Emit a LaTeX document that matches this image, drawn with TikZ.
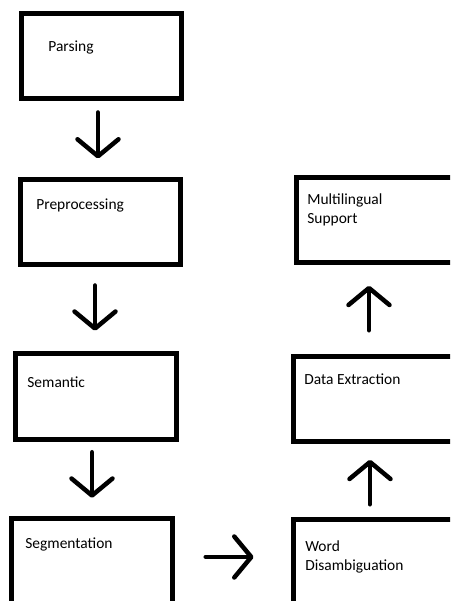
\documentclass[tikz,border=0pt]{standalone}
\usepackage{fontspec}
\setmainfont{Carlito}
\usetikzlibrary{arrows.meta}

\begin{document}
\begin{tikzpicture}[
    x=0.02cm, y=-0.02cm,
    stage/.style={rectangle, draw=black, line width=0.1cm,
                  minimum width=3.22cm, minimum height=1.71cm, inner sep=0pt},
    caption/.style={anchor=base west, inner sep=0pt, align=left,
                    font=\fontsize{8.8}{10.6}\selectfont},
    flow/.style={line width=0.09cm, line cap=round,
                 -{Straight Barb[length=0.34cm, width=0.82cm, round]}}
]

    \clip (0,0) rectangle (450,601);

    % Left column
    \node[stage] (parsing) at (101.5, 56.25) {};
    \node[stage] (preproc) at (100.5, 222.25) {};
    \node[stage] (semantic) at (96.25, 396.5) {};
    \node[stage] (segment) at (92.25, 561) {};

    \node[caption] (parsingtxt) at (48, 51.5) {Parsing};
    \node[caption] (preproctxt) at (36, 209) {Preprocessing};
    \node[caption] (semantictxt) at (27, 387) {Semantic};
    \node[caption] (segmenttxt) at (25, 548) {Segmentation};

    % Right column
    \node[stage] (wordsense) at (373.5, 562) {};
    \node[stage] (extract) at (374.25, 399) {};
    \node[stage] (multiling) at (377.25, 220) {};

    % base of a two-line caption is its last line
    \node[caption] (wordsensetxt) at (305, 570) {Word\\Disambiguation};
    \node[caption] (extracttxt) at (304, 384) {Data Extraction};
    \node[caption] (multilingtxt) at (307, 223.5) {Multilingual\\Support};

    % Arrows down the left column
    \draw[flow, shorten <=0.22cm, shorten >=0.37cm]
        (98,0 |- parsing.south) -- (98,0 |- preproc.north);
    \draw[flow, shorten <=0.36cm, shorten >=0.41cm]
        (95,0 |- preproc.south) -- (95,0 |- semantic.north);
    \draw[flow, shorten <=0.21cm, shorten >=0.36cm]
        (92,0 |- semantic.south) -- (92,0 |- segment.north);

    % Across and up the right column
    \draw[flow, shorten <=0.61cm, shorten >=0.74cm]
        (segment.east |- 0,557) -- (wordsense.west |- 0,557);
    \draw[flow, shorten <=0.25cm, shorten >=0.31cm]
        (370,0 |- wordsense.north) -- (370,0 |- extract.south);
    \draw[flow, shorten <=0.47cm, shorten >=0.41cm]
        (369,0 |- extract.north) -- (369,0 |- multiling.south);

\end{tikzpicture}
\end{document}
